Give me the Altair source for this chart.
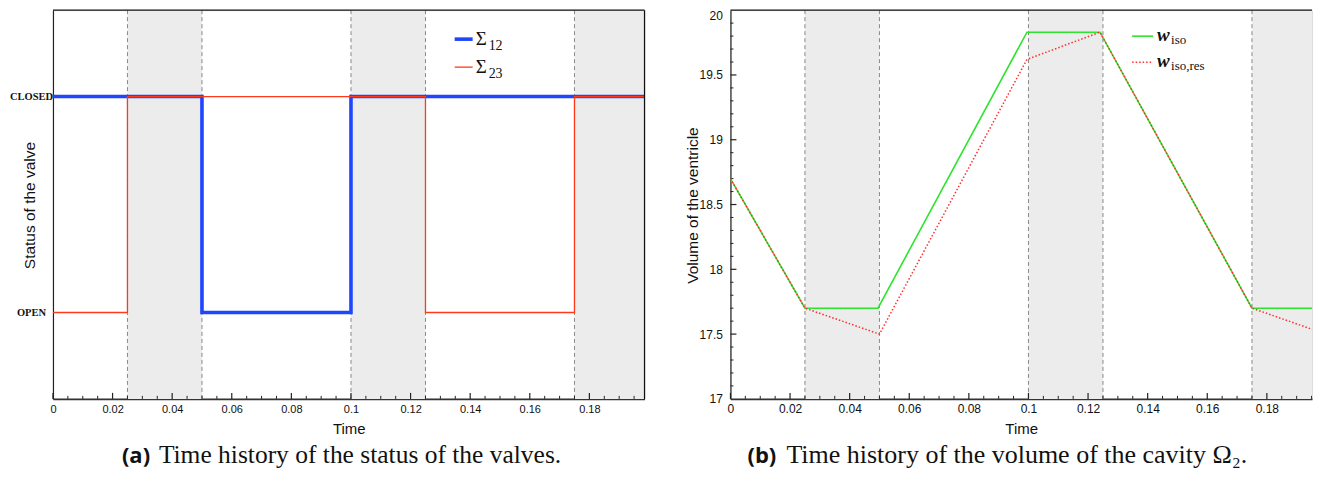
import altair as alt
import pandas as pd

# ---------------- data ----------------
# panel (a): valve status (0 = OPEN, 1 = CLOSED), step-after
s12_t = [0.0, 0.05, 0.1, 0.1985]
s12_v = [1, 0, 1, 1]
s23_t = [0.0, 0.025, 0.125, 0.175, 0.1985]
s23_v = [0, 1, 0, 1, 1]
status_labels = ["OPEN", "CLOSED"]

# panel (b): volume of the ventricle
w_t = [0.0, 0.025, 0.0495, 0.0995, 0.124, 0.175, 0.1985]
w_iso = [18.70, 17.70, 17.70, 19.83, 19.83, 17.70, 17.70]
wr_t = [0.0, 0.025, 0.05, 0.0995, 0.124, 0.175, 0.1985]
w_res = [18.70, 17.70, 17.50, 19.62, 19.83, 17.70, 17.51]

# shaded isovolumic phases
band_start = [0.025, 0.1, 0.175]
band_end = [0.05, 0.125, 0.1985]
dash_x = [0.025, 0.05, 0.1, 0.125, 0.175]

x_major = [0.0, 0.02, 0.04, 0.06, 0.08, 0.1, 0.12, 0.14, 0.16, 0.18]
x_minor = [round(0.005 * i, 3) for i in range(40) if i % 4 != 0]
y_major_b = [17.5, 18.0, 18.5, 19.0, 19.5]
y_minor_b = [round(17 + 0.1 * i, 1) for i in range(1, 30) if i % 5 != 0]

captions = {"a": ("(a)", "Time history of the status of the valves."),
            "b": ("(b)", "Time history of the volume of the cavity Ω₂.")}

H = 389
W_A = 592
XDOM_A = [0, 0.1985]
W_B = 582
XDOM_B = [0, 0.1985 * W_B / W_A]

BLUE = "#1f46ff"
RED = "#ff3a1a"
GREEN = "#2fe42f"
RED2 = "#ff2f2f"
SHADE = "#ececec"
FRAME = "#111"


def xaxis(fs):
    return alt.Axis(values=x_major, labelExpr="format(datum.value, '.2~f')", ticks=False,
                    grid=False, labelFont="Liberation Sans", labelFontSize=fs,
                    labelColor="#111", labelPadding=5, domainColor="#333", domainWidth=1.6,
                    title="Time", titleFont="Liberation Sans", titleFontSize=15,
                    titleFontWeight="normal", titleColor="#111", titleBaseline="middle",
                    titleY=30, labelFlush=False)


def background(xscale, W, fs):
    bands = pd.DataFrame({"x": band_start, "x2": band_end})
    dashes = pd.DataFrame({"x": dash_x})
    rect = alt.Chart(bands).mark_rect(color=SHADE, clip=True).encode(
        x=alt.X("x:Q", scale=xscale, axis=xaxis(fs)), x2="x2:Q",
        y=alt.value(0), y2=alt.value(H))
    rules = alt.Chart(dashes).mark_rule(color="#888", strokeDash=[4, 3], strokeWidth=1).encode(
        x="x:Q", y=alt.value(0), y2=alt.value(H))
    mj = alt.Chart(pd.DataFrame({"x": x_major})).mark_rule(color="#222", strokeWidth=1.2).encode(
        x="x:Q", y=alt.value(H), y2=alt.value(H - 6))
    mn = alt.Chart(pd.DataFrame({"x": x_minor})).mark_rule(color="#222", strokeWidth=1, clip=True).encode(
        x="x:Q", y=alt.value(H), y2=alt.value(H - 3))
    return [rect, rules, mj, mn]


def caption_layers(key, x_bold, x_body, fs):
    bold, body = captions[key]
    d = pd.DataFrame({"b": [bold], "t": [body]})
    c1 = alt.Chart(d).mark_text(font="Open Sans", fontWeight="bold", fontSize=22, align="left",
                                baseline="alphabetic", color="#111").encode(
        text="b:N", x=alt.value(x_bold), y=alt.value(H + 64))
    c2 = alt.Chart(d).mark_text(font="Liberation Serif", fontSize=fs, align="left",
                                baseline="alphabetic", color="#111").encode(
        text="t:N", x=alt.value(x_body), y=alt.value(H + 64))
    return [c1, c2]


def leg_text(df, field, x, y, size, **kw):
    return alt.Chart(df).mark_text(font="Liberation Serif", fontSize=size, align="left",
                                   baseline="alphabetic", color="#111", **kw).encode(
        text=f"{field}:N", x=alt.value(x), y=alt.value(y))


# ---------------- panel (a) ----------------
xa = alt.Scale(domain=XDOM_A, nice=False, zero=False)
ya = alt.Scale(domain=[-0.4, 1.4], nice=False, zero=False)
yaxis_a = alt.Axis(values=[0, 1], labelExpr=f"datum.value == 1 ? '{status_labels[1]}' : '{status_labels[0]}'",
                   ticks=False, grid=False, labelFont="Liberation Serif", labelFontWeight="bold",
                   labelFontSize=10.5, labelColor="#111", labelAlign="center", labelPadding=22,
                   domainColor="#222", domainWidth=1.2,
                   title="Status of the valve", titleFont="Liberation Sans", titleFontSize=15.5,
                   titleFontWeight="normal", titleColor="#111", titleX=-23, titleY=195,
                   titleAngle=-90, titleBaseline="middle", titleAlign="center")

d12 = pd.DataFrame({"t": s12_t, "v": s12_v})
d23 = pd.DataFrame({"t": s23_t, "v": s23_v})
line12 = alt.Chart(d12).mark_line(color=BLUE, strokeWidth=3.6, interpolate="step-after").encode(
    x=alt.X("t:Q", scale=xa), y=alt.Y("v:Q", scale=ya, axis=yaxis_a))
line23 = alt.Chart(d23).mark_line(color=RED, strokeWidth=1.3, interpolate="step-after").encode(
    x=alt.X("t:Q", scale=xa), y=alt.Y("v:Q", scale=ya))

frame_a = pd.DataFrame({"k": ["frame"]})
borders_a = [
    alt.Chart(frame_a).mark_rule(color=FRAME, strokeWidth=1.2).encode(
        x=alt.value(0), x2=alt.value(W_A), y=alt.value(0)),
    alt.Chart(frame_a).mark_rule(color=FRAME, strokeWidth=1.2).encode(
        x=alt.value(W_A), y=alt.value(0), y2=alt.value(H)),
]

leg_a = pd.DataFrame({"main": ["Σ", "Σ"], "sub": ["12", "23"]})
la = [
    alt.Chart(leg_a.iloc[[0]]).mark_rule(color=BLUE, strokeWidth=3.6).encode(
        x=alt.value(402), x2=alt.value(420), y=alt.value(29)),
    alt.Chart(leg_a.iloc[[1]]).mark_rule(color=RED, strokeWidth=1.3).encode(
        x=alt.value(402), x2=alt.value(420), y=alt.value(57)),
    leg_text(leg_a.iloc[[0]], "main", 423, 35, 19),
    leg_text(leg_a.iloc[[0]], "sub", 436, 40, 14),
    leg_text(leg_a.iloc[[1]], "main", 423, 63, 19),
    leg_text(leg_a.iloc[[1]], "sub", 436, 68, 14),
]

panel_a = alt.layer(*background(xa, W_A, 11), line12, line23, *borders_a, *la,
                    *caption_layers("a", 69, 106, 25.5)).properties(width=W_A, height=H)

# ---------------- panel (b) ----------------
xb = alt.Scale(domain=XDOM_B, nice=False, zero=False)
yb = alt.Scale(domain=[17, 20], nice=False, zero=False)
yaxis_b = alt.Axis(values=[17, 17.5, 18, 18.5, 19, 19.5, 20], ticks=False, grid=False,
                   labelFont="Liberation Sans", labelFontSize=12, labelColor="#111",
                   labelPadding=8, labelExpr="format(datum.value, '~g')",
                   labelBaseline=alt.ExprRef("datum.value == 20 ? 'top' : 'middle'"),
                   domainColor="#222", domainWidth=1.2,
                   title="Volume of the ventricle", titleFont="Liberation Sans", titleFontSize=15.5,
                   titleFontWeight="normal", titleColor="#111", titleX=-38, titleY=195,
                   titleAngle=-90, titleBaseline="middle", titleAlign="center")

dw = pd.DataFrame({"t": w_t, "v": w_iso})
dr = pd.DataFrame({"t": wr_t, "v": w_res})
green = alt.Chart(dw).mark_line(color=GREEN, strokeWidth=1.6, clip=True).encode(
    x=alt.X("t:Q", scale=xb), y=alt.Y("v:Q", scale=yb, axis=yaxis_b))
redd = alt.Chart(dr).mark_line(color=RED2, strokeWidth=1.5, strokeDash=[1.5, 2], clip=True).encode(
    x=alt.X("t:Q", scale=xb), y=alt.Y("v:Q", scale=yb))

ymj = alt.Chart(pd.DataFrame({"y": y_major_b})).mark_rule(color="#222", strokeWidth=1.2).encode(
    y=alt.Y("y:Q", scale=yb), x=alt.value(0), x2=alt.value(6))
ymn = alt.Chart(pd.DataFrame({"y": y_minor_b})).mark_rule(color="#222", strokeWidth=1).encode(
    y=alt.Y("y:Q", scale=yb), x=alt.value(0), x2=alt.value(3))
top_border = alt.Chart(pd.DataFrame({"y": [20]})).mark_rule(color=FRAME, strokeWidth=1.2).encode(
    y=alt.Y("y:Q", scale=yb), x=alt.value(0), x2=alt.value(W_B))

leg_b = pd.DataFrame({"main": ["w", "w"], "sub": ["iso", "iso,res"]})
lb = [
    alt.Chart(leg_b.iloc[[0]]).mark_rule(color=GREEN, strokeWidth=1.6).encode(
        x=alt.value(402), x2=alt.value(423), y=alt.value(26)),
    alt.Chart(leg_b.iloc[[1]]).mark_rule(color=RED2, strokeWidth=1.5, strokeDash=[1.5, 2]).encode(
        x=alt.value(402), x2=alt.value(423), y=alt.value(52)),
    leg_text(leg_b.iloc[[0]], "main", 427, 31, 19, fontStyle="italic", fontWeight="bold"),
    leg_text(leg_b.iloc[[0]], "sub", 441, 34, 13),
    leg_text(leg_b.iloc[[1]], "main", 427, 57, 19, fontStyle="italic", fontWeight="bold"),
    leg_text(leg_b.iloc[[1]], "sub", 441, 60, 13),
]

panel_b = alt.layer(*background(xb, W_B, 12), ymj, ymn, top_border, green, redd, *lb,
                    *caption_layers("b", 17, 56, 26)).properties(width=W_B, height=H)

chart = alt.hconcat(panel_a, panel_b, spacing=86, bounds="flush").properties(
    padding={"left": 0, "top": 0, "right": 0, "bottom": 0}
).configure_view(stroke="transparent", strokeWidth=0).configure(background="white")

chart.save("out.html", embed_options={"renderer": "svg", "actions": False})
